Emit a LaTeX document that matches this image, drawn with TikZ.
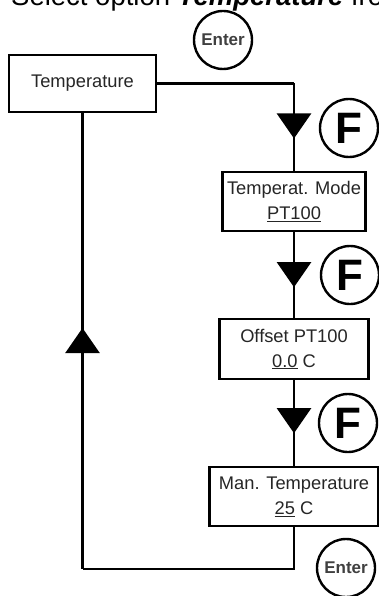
\documentclass[tikz,border=0pt]{standalone}
\usepackage{fontspec}
\setmainfont{Liberation Sans}
\usetikzlibrary{arrows.meta,decorations.markings}
\begin{document}
\begin{tikzpicture}[x=1pt,y=-1pt,
  box/.style={draw, line width=2.4pt, rectangle, inner sep=0pt, align=center,
    font=\fontsize{18.3}{25}\selectfont, text=black!85},
  key/.style={draw, circle, line width=2.4pt, inner sep=0pt, minimum size=58pt},
  conn/.style={line width=2.4pt},
  tri/.style={postaction={decorate}, decoration={markings,
    mark=at position #1 with {\arrow{Triangle[width=34pt,length=25pt]}}}}
]
\useasboundingbox (0,0) rectangle (379,596);
\clip (0,0) rectangle (379,596);
\fill[white] (0,0) rectangle (379,596);

\node[anchor=base west, inner sep=0pt, font=\fontsize{27.5}{27.5}\selectfont] (title) at (11,6)
  {Select option \textbf{\textit{Temperature}} fro};

\node[box, minimum width=147pt, minimum height=57pt] (t1) at (82.5,83.5) {Temperature};
\node[box, minimum width=143pt, minimum height=59pt] (b2) at (294,201.5) {Temperat. Mode\\\underline{PT100}};
\node[box, minimum width=149pt, minimum height=60pt] (b3) at (294,349) {Offset PT100\\\underline{0.0} C};
\node[box, minimum width=169pt, minimum height=59pt] (b4) at (294,496.5) {Man. Temperature\\\underline{25} C};

\node[key, font=\bfseries\fontsize{17}{17}\selectfont, text=black!75] (e1) at (223,40) {Enter};
\node[key, font=\bfseries\fontsize{44}{44}\selectfont] (f1) at (349,128) {F};
\node[key, font=\bfseries\fontsize{44}{44}\selectfont] (f2) at (350,275) {F};
\node[key, font=\bfseries\fontsize{44}{44}\selectfont] (f3) at (348,423) {F};
\node[key, font=\bfseries\fontsize{17}{17}\selectfont, text=black!75] (e2) at (346,568) {Enter};

\coordinate (k1) at (b2.north |- t1.east);
\coordinate (k2) at (294,569);
\coordinate (k3) at (t1.south |- k2);
\draw[conn] (t1.east) -- (k1);
\draw[conn, tri=55pt] (k1) -- (b2.north);
\draw[conn, tri=55pt] (b2.south) -- (b3.north);
\draw[conn, tri=53pt] (b3.south) -- (b4.north);
\draw[conn] (b4.south) -- (k2) -- (k3);
\draw[conn, tri=241pt] (k3) -- (t1.south);
\end{tikzpicture}
\end{document}
